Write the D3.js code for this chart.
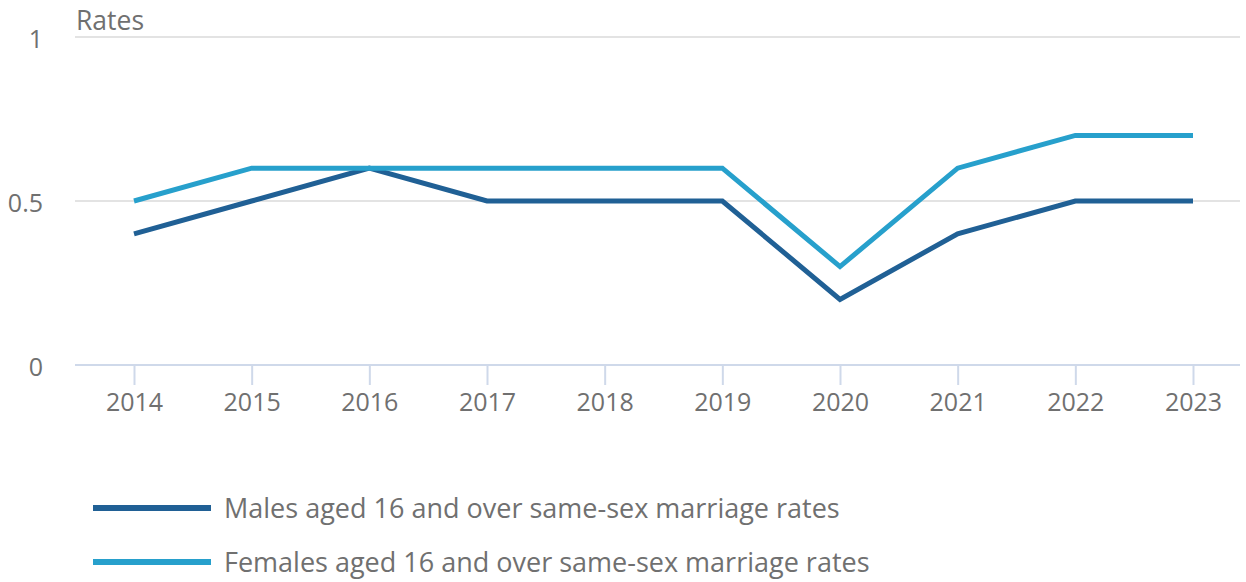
<!DOCTYPE html>
<html lang="en">
<head>
    <meta charset="UTF-8">
    <script src="https://cdn.jsdelivr.net/npm/d3@7"></script>
    <title>Same-sex marriage rates</title>
    <style>
        body { margin: 0; background: #fff; }
        text { font-family: "Open Sans", sans-serif; fill: #707070; }
    </style>
</head>
<body>
</body>
<script>
    var years = ["2014", "2015", "2016", "2017", "2018", "2019", "2020", "2021", "2022", "2023"];
    var males = [0.4, 0.5, 0.6, 0.5, 0.5, 0.5, 0.2, 0.4, 0.5, 0.5];
    var females = [0.5, 0.6, 0.6, 0.6, 0.6, 0.6, 0.3, 0.6, 0.7, 0.7];
    var yTicks = [0, 0.5, 1];
    var seriesNames = ["Males aged 16 and over same-sex marriage rates",
                       "Females aged 16 and over same-sex marriage rates"];
    var colours = ["#206095", "#27a0cc"];

    var width = 1246, height = 582;
    var plotLeft = 75, plotRight = 1240, plotTop = 37, plotBottom = 365;

    var svg = d3.select("body")
        .append("svg")
        .attr("width", width)
        .attr("height", height);

    var x = d3.scalePoint()
        .domain(years)
        .range([134, 1193]);

    var y = d3.scaleLinear()
        .domain([0, 1])
        .range([plotBottom, plotTop]);

    // grid lines
    svg.selectAll("line.grid")
        .data(yTicks.filter(d => d > 0))
        .enter()
        .append("line")
        .attr("class", "grid")
        .attr("x1", plotLeft)
        .attr("x2", plotRight)
        .attr("y1", d => y(d))
        .attr("y2", d => y(d))
        .attr("stroke", "#e3e3e3")
        .attr("stroke-width", 2);

    // y labels
    svg.selectAll("text.ylab")
        .data(yTicks)
        .enter()
        .append("text")
        .attr("class", "ylab")
        .attr("x", 43)
        .attr("y", d => y(d) + 11)
        .attr("text-anchor", "end")
        .attr("font-size", 25)
        .text(d => d);

    svg.append("text")
        .attr("x", 76)
        .attr("y", 30)
        .attr("font-size", 26.5)
        .text("Rates");

    // x axis
    var xAxis = svg.append("g")
        .attr("transform", "translate(0," + plotBottom + ")")
        .call(d3.axisBottom(x).tickSize(20).tickPadding(8));
    xAxis.select(".domain").remove();
    xAxis.append("line")
        .attr("x1", plotLeft)
        .attr("x2", plotRight)
        .attr("stroke", "#cfd9ea")
        .attr("stroke-width", 2);
    xAxis.selectAll(".tick line")
        .attr("stroke", "#cfd9ea")
        .attr("stroke-width", 2);
    xAxis.selectAll(".tick text")
        .attr("font-size", 25)
        .attr("font-family", "Open Sans, sans-serif")
        .attr("fill", "#707070");

    // lines
    var line = d3.line()
        .x((d, i) => x(years[i]))
        .y(d => y(d));

    [males, females].forEach(function (s, i) {
        svg.append("path")
            .datum(s)
            .attr("d", line)
            .attr("fill", "none")
            .attr("stroke", colours[i])
            .attr("stroke-width", 5)
            .attr("stroke-linejoin", "miter");
    });

    // legend
    var legend = svg.selectAll("g.legend")
        .data(seriesNames)
        .enter()
        .append("g")
        .attr("class", "legend")
        .attr("transform", (d, i) => "translate(0," + (508 + i * 54) + ")");

    legend.append("line")
        .attr("x1", 93)
        .attr("x2", 211)
        .attr("stroke", (d, i) => colours[i])
        .attr("stroke-width", 6);

    legend.append("text")
        .attr("x", 224)
        .attr("y", 10)
        .attr("font-size", 27)
        .text(d => d);
</script>
</html>
